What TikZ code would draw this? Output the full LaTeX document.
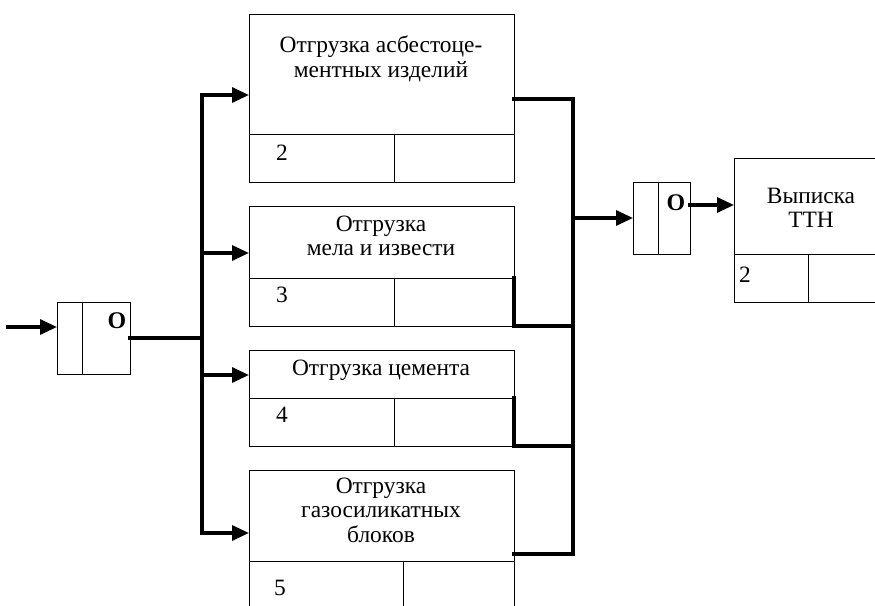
\documentclass[tikz,border=0pt]{standalone}
\usepackage{fontspec}
\setmainfont{Liberation Serif}
\usetikzlibrary{arrows.meta}

\begin{document}
\begin{tikzpicture}[x=1bp, y=-1bp,
		box/.style={draw, line width=0.9bp, inner sep=0pt, outer sep=0pt, anchor=north west},
		wire/.style={line width=3.2bp, line cap=rect},
		arr/.style={wire, -{Triangle[length=17bp, width=15bp]}},
		txt/.style={align=center, inner sep=0pt, font=\fontsize{23.5}{24.5}\selectfont},
		jtxt/.style={inner sep=0pt, font=\fontsize{24}{24}\selectfont\bfseries}]
		%%%%% START %%%%%
		
		\useasboundingbox (0,0) rectangle (875,606);
		\clip (0,0) rectangle (875,606);
		
		% junctions
		\node[box, minimum width=25bp, minimum height=72bp] (j1a) at (57,302) {};
		\node[box, minimum width=48bp, minimum height=72bp] (j1b) at (j1a.north east) {};
		\node[jtxt] (o1) at (117,321) {O};
		
		\node[box, minimum width=25bp, minimum height=72bp] (j2a) at (633,182) {};
		\node[box, minimum width=32bp, minimum height=72bp] (j2b) at (j2a.north east) {};
		\node[jtxt] (o2) at (676,203) {O};
		
		% shipping works
		\node[box, minimum width=265bp, minimum height=120bp] (p1) at (249,14) {};
		\node[box, minimum width=145bp, minimum height=48bp] (p1a) at (p1.south west) {};
		\node[box, minimum width=120bp, minimum height=48bp] (p1b) at (p1a.north east) {};
		\node[txt] (t1) at (381,59) {Отгрузка асбестоце-\\ментных изделий};
		\node[txt] (n1) at (282,153) {2};
		
		\node[box, minimum width=265bp, minimum height=72bp] (p2) at (249,206) {};
		\node[box, minimum width=145bp, minimum height=48bp] (p2a) at (p2.south west) {};
		\node[box, minimum width=120bp, minimum height=48bp] (p2b) at (p2a.north east) {};
		\node[txt] (t2) at (381,236) {Отгрузка\\мела и извести};
		\node[txt] (n2) at (282,295) {3};
		
		\node[box, minimum width=265bp, minimum height=48bp] (p3) at (249,350) {};
		\node[box, minimum width=145bp, minimum height=48bp] (p3a) at (p3.south west) {};
		\node[box, minimum width=120bp, minimum height=48bp] (p3b) at (p3a.north east) {};
		\node[txt] (t3) at (381,370) {Отгрузка цемента};
		\node[txt] (n3) at (282,415) {4};
		
		\node[box, minimum width=265bp, minimum height=91bp] (p4) at (249,470) {};
		\node[box, minimum width=154bp, minimum height=50bp] (p4a) at (p4.south west) {};
		\node[box, minimum width=111bp, minimum height=50bp] (p4b) at (p4a.north east) {};
		\node[txt] (t4) at (381,510) {Отгрузка\\газосиликатных\\блоков};
		\node[txt] (n4) at (280,588) {5};
		
		% waybill
		\node[box, minimum width=154bp, minimum height=96bp] (p5) at (734,158) {};
		\node[box, minimum width=74bp, minimum height=48bp] (p5a) at (p5.south west) {};
		\node[box, minimum width=80bp, minimum height=48bp] (p5b) at (p5a.north east) {};
		\node[txt] (t5) at (811,208) {Выписка\\ТТН};
		\node[txt] (n5) at (745,275) {2};
		
		% fan out
		\coordinate (in) at (8,327);
		\coordinate (l1) at (202,95);
		\coordinate (l2) at (202,253);
		\coordinate (l3) at (202,375);
		\coordinate (l4) at (202,533);
		\draw[arr] (in) -- (in -| j1a.west);
		\draw[wire] (j1b.east) -- (j1b.east -| l1);
		\draw[wire] (l1) -- (l4);
		\foreach \i in {1,...,4}
			\draw[arr] (l\i) -- (l\i -| p\i.west);
		
		% fan in
		\coordinate (r1) at (573,99);
		\coordinate (r4) at (573,554);
		\coordinate (out) at (690,205);
		\draw[wire] (r1 -| p1.east) -- (r1) -- (r4);
		\draw[wire] (p2b.north east) -- (p2b.south east) -- (p2b.south east -| r1);
		\draw[wire] (p3b.north east) -- (p3b.south east) -- (p3b.south east -| r1);
		\draw[wire] (r4 -| p4.east) -- (r4);
		\draw[arr] (j2a.west -| r1) -- (j2a.west);
		\draw[arr] (out) -- (out -| p5.west);
		
		%%%%% END %%%%%
	\end{tikzpicture}
\end{document}
